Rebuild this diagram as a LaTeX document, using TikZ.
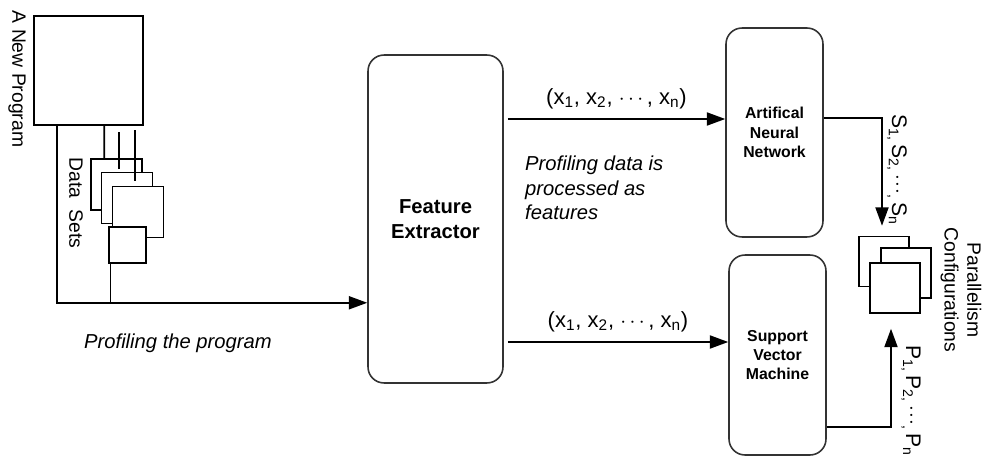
\documentclass[tikz,border=0pt]{standalone}
\usepackage{fontspec}
\setmainfont{Liberation Sans}
\usepackage{amsmath,amssymb}
\usetikzlibrary{positioning,calc,arrows.meta}

\begin{document}
\begin{tikzpicture}[x=0.02cm,y=-0.02cm,
        sqbox/.style={draw, line width=0.9pt, fill=white, inner sep=0pt},
        rbox/.style={draw=black!80, line width=0.9pt, rounded corners=0.32cm, inner sep=0pt, align=center},
        arr/.style={line width=0.9pt, -{Triangle[length=10.5pt,width=7.5pt]}},
        wire/.style={line width=0.9pt},
        txt/.style={font=\fontsize{11}{13}\selectfont},
        vtxt/.style={font=\fontsize{12.5}{15}\selectfont},
        itxt/.style={font=\fontsize{11.5}{14}\selectfont\itshape},
        btxt/.style={font=\fontsize{9}{11}\selectfont\bfseries}]
        \useasboundingbox (0,0) rectangle (984,466);

        % program and its data sets
        \node[sqbox, minimum size=2.18cm] (prog) at (88.5,70.5) {};
        \node[txt, rotate=-90] (proglab) at (17,79) {A New Program};
        \node[sqbox, minimum size=1.02cm] (d1) at (116.5,184.5) {};
        \draw[wire] ($(prog.south west)+(71,0)$) -- ($(d1.north west)+(14,0)$);
        \draw[wire] ($(d1.north west)+(29,11)$) -- ++(0,-37);
        \node[sqbox, minimum size=1.02cm] (d2) at (127,198) {};
        \draw[wire] ($(d2.north west)+(34,9)$) -- ++(0,-51);
        \node[sqbox, minimum size=1.02cm] (d3) at (138,212) {};
        \node[sqbox, minimum size=0.73cm] (d4) at (127.5,245) {};
        \node[txt, rotate=-90] (dlab) at (76,203) {Data\ \ Sets};

        \coordinate (j) at ($(prog.south west)+(24,177)$);
        \coordinate (k) at ($(d4.south west)+(2,0)$);

        % processing blocks
        \node[rbox, font=\fontsize{11.5}{14}\selectfont\bfseries, minimum width=2.7cm, minimum height=6.56cm] (fe) at (435.5,219) {Feature\\Extractor};
        \node[rbox, btxt, minimum width=1.94cm, minimum height=4.18cm] (ann) at (774.5,132.5) {Artifical\\Neural\\Network};
        \node[rbox, btxt, minimum width=1.94cm, minimum height=4.0cm] (svm) at (777.5,355) {Support\\Vector\\Machine};

        % parallelism configurations
        \node[sqbox, minimum size=1.0cm] (c1) at (884,261.5) {};
        \node[sqbox, minimum size=1.0cm] (c2) at (906,273) {};
        \node[sqbox, minimum size=1.0cm] (c3) at (895,288) {};
        \node[txt, rotate=-90, align=center] (conflab) at (961,290) {Parallelism\\Configurations};

        % connections
        \draw[arr] ($(prog.south west)+(24,0)$) -- (j) -- (j -| fe.west);
        \draw[wire] (k) -- (k |- j);
        \node[itxt, anchor=west] (proflab) at (78,343) {Profiling the program};

        \coordinate (fa) at ($(fe.east)+(4,-100)$);
        \coordinate (fs) at ($(fe.east)+(4,123)$);
        \draw[arr] (fa) -- (fa -| ann.west) node[vtxt, midway, above=2pt] (xa) {(x\textsubscript{1}, x\textsubscript{2}, $\cdots$, x\textsubscript{n})};
        \draw[arr] (fs) -- (fs -| svm.west) node[vtxt, midway, above=2pt] (xs) {(x\textsubscript{1}, x\textsubscript{2}, $\cdots$, x\textsubscript{n})};
        \node[itxt, anchor=west, align=left] (featlab) at (519,188) {Profiling data is\\processed as\\features};

        \coordinate (as) at ($(ann.east)+(0,-14.5)$);
        \coordinate (ss) at ($(svm.east)+(0,72)$);
        \draw[arr] (as) -| ($(c1.north)+(-2,-10)$);
        \draw[arr] (ss) -| ($(c3.south)+(-4,15)$);
        \node[txt, font=\fontsize{12}{14}\selectfont, rotate=-90] (slab) at (897,170) {S\textsubscript{1,}\,S\textsubscript{2,}\,$\cdot\!\cdot\!\cdot$\textsubscript{,}\,S\textsubscript{n}};
        \node[txt, font=\fontsize{12}{14}\selectfont, rotate=-90] (plab) at (911,401) {P\textsubscript{1,}\,P\textsubscript{2,}\,$\cdot\!\cdot\!\cdot$\textsubscript{,}\,P\textsubscript{n}};
\end{tikzpicture}
\end{document}
